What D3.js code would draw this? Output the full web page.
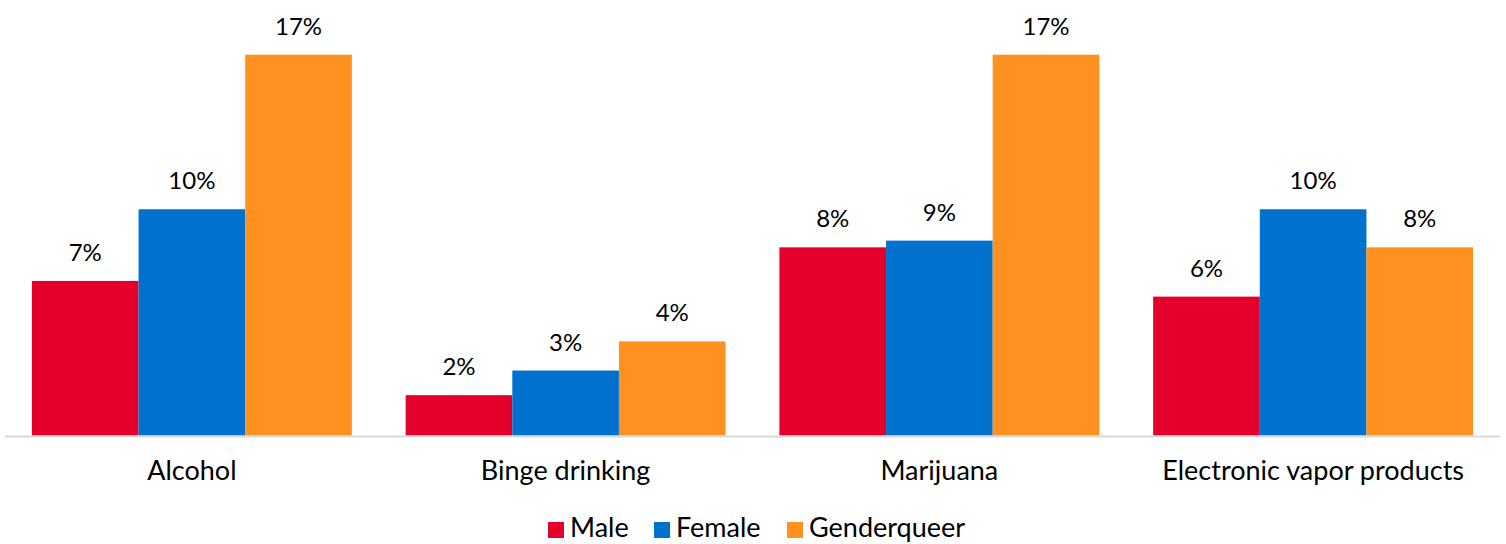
<!DOCTYPE html>
<html>
  <head>
    <script type="text/javascript" src="https://cdn.jsdelivr.net/npm/d3@7"></script>
    <style>
      body { margin: 0; background: #fff; }
      text { font-family: "Gill Sans", "Gill Sans MT", Lato, sans-serif; fill: #000; }
      .label { font-size: 24px; }
      .cat { font-size: 27px; }
      .legend text { font-size: 27px; }
    </style>
  </head>
  <body>
    <div id="chart"></div>
  </body>
  <script>
  (function (d3) {
    'use strict';

    // data (percent)
    var categories = ['Alcohol', 'Binge drinking', 'Marijuana', 'Electronic vapor products'];
    var seriesNames = ['Male', 'Female', 'Genderqueer'];
    var male = [6.9, 1.8, 8.4, 6.2];
    var female = [10.1, 2.9, 8.7, 10.1];
    var genderqueer = [17.0, 4.2, 17.0, 8.4];
    var seriesColors = ['#E4002B', '#0072CE', '#FF9121'];

    var values = [male, female, genderqueer];

    var width = 1506;
    var height = 544;
    var left = 5, right = 1500, baseline = 435.5;

    var svg = d3.select('#chart')
      .append('svg')
      .attr('width', width)
      .attr('height', height);

    var x0 = d3.scaleBand()
      .domain(categories)
      .range([left, right])
      .paddingInner(0.144)
      .paddingOuter(0.072);

    var x1 = d3.scaleBand()
      .domain(seriesNames)
      .range([0, x0.bandwidth()]);

    var y = d3.scaleLinear()
      .domain([0, 18])
      .range([baseline, baseline - 18 * 22.4]);

    var color = d3.scaleOrdinal().domain(seriesNames).range(seriesColors);

    var groups = svg.selectAll('.group')
      .data(categories)
      .enter()
      .append('g')
      .attr('class', 'group')
      .attr('transform', function (d) { return 'translate(' + x0(d) + ',0)'; });

    groups.selectAll('rect')
      .data(function (d, i) {
        return seriesNames.map(function (s, j) { return { series: s, value: values[j][i] }; });
      })
      .enter()
      .append('rect')
      .attr('x', function (d) { return x1(d.series); })
      .attr('width', x1.bandwidth())
      .attr('y', function (d) { return y(d.value); })
      .attr('height', function (d) { return baseline - y(d.value); })
      .attr('fill', function (d) { return color(d.series); });

    groups.selectAll('.label')
      .data(function (d, i) {
        return seriesNames.map(function (s, j) { return { series: s, value: values[j][i] }; });
      })
      .enter()
      .append('text')
      .attr('class', 'label')
      .attr('text-anchor', 'middle')
      .attr('x', function (d) { return x1(d.series) + x1.bandwidth() / 2; })
      .attr('y', function (d) { return y(d.value) - 20; })
      .text(function (d) { return Math.round(d.value) + '%'; });

    // axis line
    svg.append('line')
      .attr('x1', left).attr('x2', right)
      .attr('y1', baseline + 1).attr('y2', baseline + 1)
      .attr('stroke', '#d9d9d9')
      .attr('stroke-width', 2);

    svg.selectAll('.cat')
      .data(categories)
      .enter()
      .append('text')
      .attr('class', 'cat')
      .attr('text-anchor', 'middle')
      .attr('x', function (d) { return x0(d) + x0.bandwidth() / 2; })
      .attr('y', 480)
      .text(function (d) { return d; });

    // legend
    var legendX = [548, 654, 787];
    var legend = svg.selectAll('.legend')
      .data(seriesNames)
      .enter()
      .append('g')
      .attr('class', 'legend')
      .attr('transform', function (d, i) { return 'translate(' + legendX[i] + ',522)'; });

    legend.append('rect')
      .attr('width', 16)
      .attr('height', 16)
      .attr('fill', color);

    legend.append('text')
      .attr('x', 22)
      .attr('y', 15)
      .text(function (d) { return d; });

  })(window.d3);
  </script>
</html>
